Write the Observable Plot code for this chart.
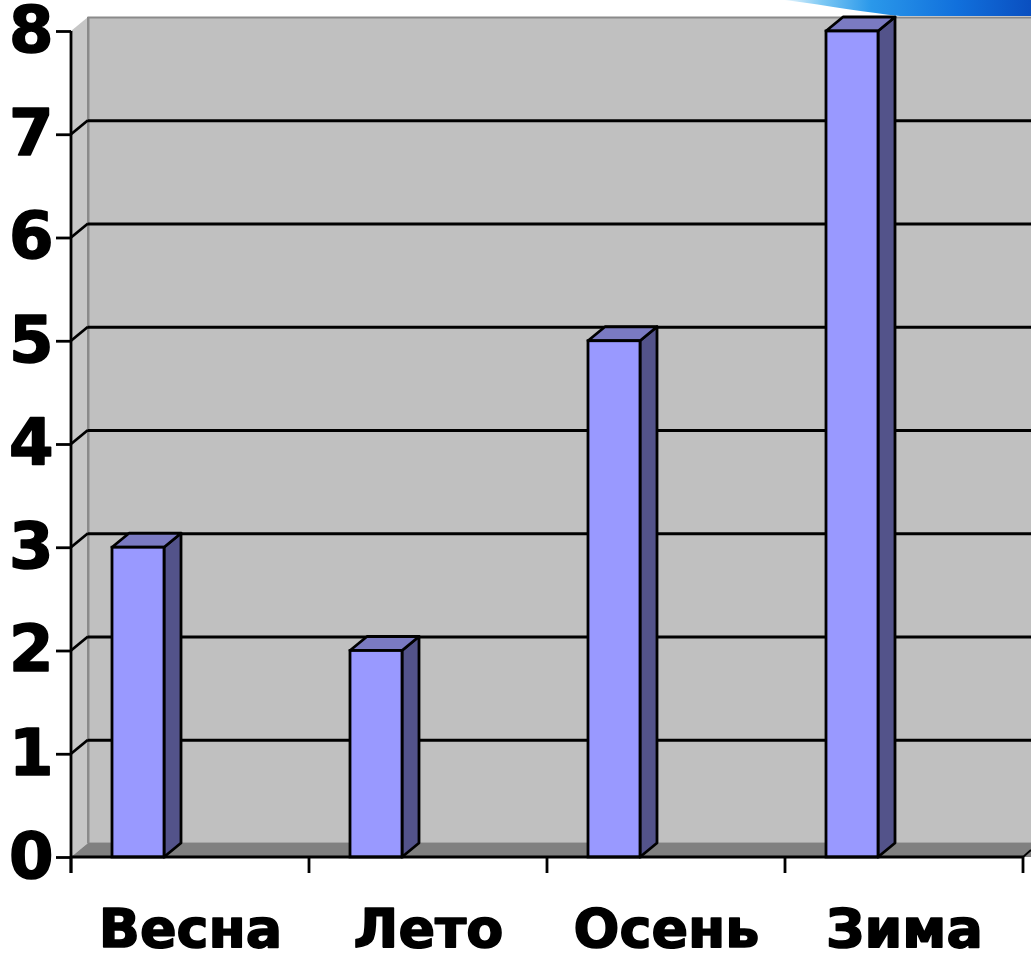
<!DOCTYPE html>
<html><head><meta charset="utf-8">
<script src="https://cdn.jsdelivr.net/npm/d3@7"></script>
<script src="https://cdn.jsdelivr.net/npm/@observablehq/plot@0.6"></script>
<style>
body{margin:0;background:#fff;overflow:hidden}
#chart{position:relative;width:1031px;height:957px}
#chart svg text{stroke:black;stroke-width:1.6px;stroke-linejoin:round}
#swoosh{position:absolute;top:0;left:0;pointer-events:none}
</style>
</head><body><div id="chart"></div>
<script>
const categories = ["Весна", "Лето", "Осень", "Зима"];
const values = [3, 2, 5, 8];
const yTicks = [0, 1, 2, 3, 4, 5, 6, 7, 8];

const data = categories.map((c, i) => ({season: c, value: values[i]}));

const DX = 17, DY = -14;          // 3D depth offset
const INSET_L = 41, INSET_R = 145; // bar front face within band
const ns = "http://www.w3.org/2000/svg";

function poly(g, pts, fill, stroke, sw) {
  const p = document.createElementNS(ns, "polygon");
  p.setAttribute("points", pts.map(q => q.join(",")).join(" "));
  p.setAttribute("fill", fill);
  p.setAttribute("stroke", stroke || "none");
  if (sw) p.setAttribute("stroke-width", sw);
  p.setAttribute("stroke-linejoin", "round");
  g.appendChild(p);
}
function line(g, x1, y1, x2, y2, stroke, sw) {
  const l = document.createElementNS(ns, "line");
  l.setAttribute("x1", x1); l.setAttribute("y1", y1);
  l.setAttribute("x2", x2); l.setAttribute("y2", y2);
  l.setAttribute("stroke", stroke); l.setAttribute("stroke-width", sw);
  g.appendChild(l);
}

const wallMark = (index, {x, y}, values, dims) => {
  const g = document.createElementNS(ns, "g");
  const x0 = dims.marginLeft, x1 = dims.width - dims.marginRight;
  const yb = y(0), yt = y(yTicks[yTicks.length - 1]);
  poly(g, [[x0, yt], [x0 + DX, yt + DY], [x0 + DX, yb + DY], [x0, yb]], "#c6c6c6");
  poly(g, [[x0, yb], [x0 + DX, yb + DY], [x1 + DX + 20, yb + DY], [x1 + 20, yb]], "#808080");
  line(g, x0 + DX, yt + DY, x0 + DX, yb + DY, "#8a8a8a", 2);
  return g;
};

const connectorMark = (index, {y}, values, dims) => {
  const g = document.createElementNS(ns, "g");
  const x0 = dims.marginLeft;
  yTicks.filter(t => t > 0 && t < 8).forEach(t => line(g, x0, y(t), x0 + DX, y(t) + DY, "black", 2.8));
  return g;
};

const barDepthMark = (index, {x, y}) => {
  const g = document.createElementNS(ns, "g");
  const bw = x(categories[1]) - x(categories[0]);
  data.forEach(d => {
    const xl = x(d.season) + INSET_L, xr = x(d.season) + bw - INSET_R;
    const yv = y(d.value), y0 = y(0);
    poly(g, [[xr, yv], [xr + DX, yv + DY], [xr + DX, y0 + DY], [xr, y0]], "#53538a", "black", 2.8);
    poly(g, [[xl, yv], [xl + DX, yv + DY], [xr + DX, yv + DY], [xr, yv]], "#7a7ac2", "black", 2.8);
  });
  return g;
};

const axisLinesMark = (index, {x, y}, values, dims) => {
  const g = document.createElementNS(ns, "g");
  const x0 = dims.marginLeft, x1 = dims.width - dims.marginRight;
  const y0 = y(0);
  const bw = x(categories[1]) - x(categories[0]);
  line(g, x0, y(8), x0, y0 + 16, "black", 2.8);
  line(g, x0, y0, x1, y0, "black", 2.8);
  categories.forEach(c => line(g, x(c), y0, x(c), y0 + 16, "black", 2.8));
  const xe = x(categories[categories.length - 1]) + bw;
  line(g, xe, y0, xe, y0 + 16, "black", 2.8);
  line(g, xe, y0, xe + 8, y0 - 7, "black", 2);
  return g;
};

const chart = Plot.plot({
  width: 1031,
  height: 957,
  marginLeft: 71,
  marginRight: 8,
  marginTop: 31,
  marginBottom: 100,
  style: "font-family:'DejaVu Sans';font-weight:bold;color:black;background:white;overflow:visible",
  x: {domain: categories, padding: 0, label: null},
  y: {domain: [0, 8], label: null},
  marks: [
    Plot.frame({fill: "#c0c0c0", stroke: "#8a8a8a", strokeWidth: 2, dx: DX, dy: DY}),
    wallMark,
    Plot.ruleY(yTicks.filter(t => t > 0 && t < 8), {dx: DX, dy: DY, stroke: "black", strokeWidth: 2.8}),
    connectorMark,
    barDepthMark,
    Plot.barY(data, {x: "season", y: "value", fill: "#9999ff", stroke: "black", strokeWidth: 2.8,
      insetLeft: INSET_L, insetRight: INSET_R}),
    axisLinesMark,
    Plot.axisY({ticks: yTicks, tickSize: 15, tickPadding: 3, fontSize: 64, strokeWidth: 2.8, tickFormat: d => d, label: null}),
    Plot.axisX({tickSize: 0, tickPadding: 51, fontSize: 54, label: null})
  ]
});
document.getElementById("chart").appendChild(chart);

const sw = document.createElementNS(ns, "svg");
sw.setAttribute("id", "swoosh");
sw.setAttribute("width", 1031);
sw.setAttribute("height", 20);
sw.innerHTML = `<defs><linearGradient id="bg" gradientUnits="userSpaceOnUse" x1="785" x2="1031" y1="0" y2="0">
<stop offset="0" stop-color="#e6f5fd"/><stop offset="0.15" stop-color="#7cc8f4"/><stop offset="0.35" stop-color="#2a98ea"/><stop offset="0.7" stop-color="#1170dc"/><stop offset="1" stop-color="#0a4fc0"/></linearGradient></defs>
<path d="M785 0 L1031 0 L1031 16 L900 16 C870 13 830 6 785 0 Z" fill="url(#bg)"/>`;
document.getElementById("chart").appendChild(sw);
</script>
</body></html>
